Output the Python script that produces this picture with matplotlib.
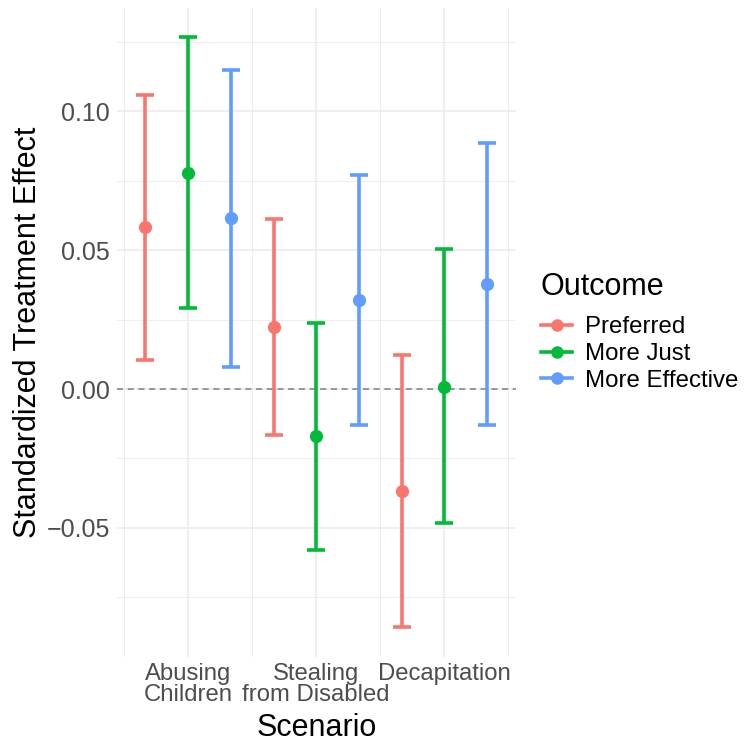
import numpy as np
import matplotlib.pyplot as plt
from matplotlib.lines import Line2D

plt.rcParams['font.family'] = ['Liberation Sans', 'DejaVu Sans']

# Data
scenarios = ['Abusing\nChildren', 'Stealing\nfrom Disabled', 'Decapitation']
outcomes = ['Preferred', 'More Just', 'More Effective']
colors = ['#F8766D', '#00BA38', '#619CFF']

# rows = outcome, columns = scenario
estimate = [[0.0582, 0.0223, -0.0369],
            [0.0779, -0.0169, 0.0008],
            [0.0615, 0.0320, 0.0377]]
lower = [[0.0106, -0.0167, -0.0857],
         [0.0291, -0.0579, -0.0484],
         [0.0080, -0.0131, -0.0131]]
upper = [[0.1059, 0.0613, 0.0121],
         [0.1269, 0.0239, 0.0503],
         [0.1147, 0.0770, 0.0886]]

fig = plt.figure(figsize=(7.47, 7.48), dpi=100)
ax = fig.add_axes([117 / 747, 1 - 657 / 748, 399 / 747, 649 / 748])

x = np.arange(1, len(scenarios) + 1)
dodge = [-0.333, 0.0, 0.333]

# grid like theme_minimal
grid_col = '#EBEBEB'
ax.set_xticks(x)
ax.set_xticks([0.5, 1.5, 2.5, 3.5], minor=True)
ax.set_yticks([-0.05, 0.0, 0.05, 0.10])
ax.set_yticks([-0.075, -0.025, 0.025, 0.075, 0.125], minor=True)
ax.grid(True, which='major', color=grid_col, linewidth=1.1)
ax.grid(True, which='minor', color=grid_col, linewidth=0.6)
ax.set_axisbelow(True)
for s in ax.spines.values():
    s.set_visible(False)
ax.tick_params(which='both', length=0)
ax.tick_params(axis='y', pad=5, labelsize=18, labelcolor='#4D4D4D')
ax.tick_params(axis='x', pad=4, labelsize=17.2, labelcolor='#4D4D4D')

ax.axhline(0, color='#7F7F7F', linestyle=(0, (4, 3)), linewidth=1.1, zorder=1.5)

for i, name in enumerate(outcomes):
    est = np.array(estimate[i])
    lo = est - np.array(lower[i])
    hi = np.array(upper[i]) - est
    ax.errorbar(x + dodge[i], est, yerr=[lo, hi], fmt='o', color=colors[i],
                markersize=8.5, elinewidth=2.6, capsize=6.8, capthick=2.6,
                zorder=3)

ax.set_xlim(0.445, 3.56)
ax.set_ylim(-0.0965, 0.1372)
ax.set_yticklabels(['\u22120.05', '0.00', '0.05', '0.10'])
ax.set_xticklabels(scenarios, linespacing=0.95, ha='center', multialignment='center')

ax.set_xlabel('Scenario', fontsize=22, labelpad=5)
ax.set_ylabel('Standardized Treatment Effect', fontsize=22, labelpad=3)

# legend: title as its own text, entries below
fig.text(541 / 747, 1 - 287 / 748, 'Outcome', fontsize=22, ha='left', va='center')
handles = [Line2D([0], [0], color=c, marker='o', markersize=8, linewidth=2.6)
           for c in colors]
leg = fig.legend(handles, outcomes, loc='center left',
                 bbox_to_anchor=(541 / 747, 1 - 354 / 748), frameon=False,
                 borderpad=0, borderaxespad=0,
                 fontsize=17.3, handlelength=1.3,
                 handletextpad=0.55, labelspacing=0.2)

fig.savefig('out.png', dpi=100)
